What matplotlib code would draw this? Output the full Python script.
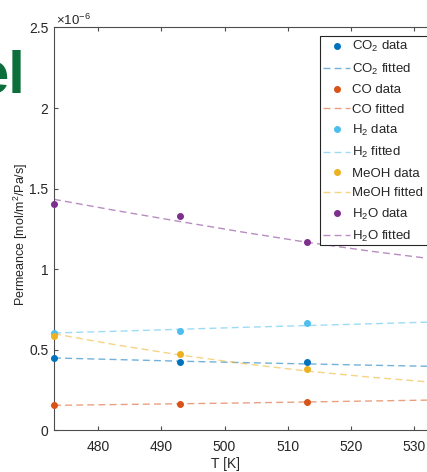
import matplotlib
matplotlib.use("Agg")
import matplotlib.pyplot as plt
from matplotlib.patches import Rectangle
from matplotlib.lines import Line2D

plt.rcParams["font.family"] = ["Liberation Sans", "DejaVu Sans"]
plt.rcParams["mathtext.fontset"] = "custom"
plt.rcParams["mathtext.rm"] = "Liberation Sans"
plt.rcParams["mathtext.it"] = "Liberation Sans:italic"
plt.rcParams["mathtext.bf"] = "Liberation Sans:bold"

# measured temperatures [K] and permeances [1e-6 mol/m2/Pa/s]
T_data = [473, 493, 513]
co2_data = [0.452, 0.423, 0.423]
co_data = [0.158, 0.162, 0.179]
h2_data = [0.607, 0.617, 0.665]
meoh_data = [0.586, 0.475, 0.380]
h2o_data = [1.403, 1.333, 1.171]

# fitted curves
T_fit = [473, 483, 493, 503, 513, 523, 533]
co2_fit = [0.450, 0.440, 0.430, 0.421, 0.413, 0.405, 0.398]
co_fit = [0.156, 0.161, 0.166, 0.171, 0.177, 0.183, 0.189]
h2_fit = [0.605, 0.616, 0.628, 0.640, 0.651, 0.662, 0.673]
meoh_fit = [0.600, 0.530, 0.468, 0.415, 0.369, 0.331, 0.299]
h2o_fit = [1.434, 1.363, 1.296, 1.230, 1.168, 1.113, 1.064]

species = ["CO$_2$", "CO", "H$_2$", "MeOH", "H$_2$O"]
colors = ["#0072BD", "#D95319", "#4DBEEE", "#EDB120", "#7E2F8E"]
data_sets = [co2_data, co_data, h2_data, meoh_data, h2o_data]
fit_sets = [co2_fit, co_fit, h2_fit, meoh_fit, h2o_fit]

W, H = 427, 472
fig = plt.figure(figsize=((W + 0.01) / 100, (H + 0.01) / 100), dpi=100)
ax = fig.add_axes([54 / W, (H - 430.5) / H, 379 / W, 403 / H])

for name, c, d, f in zip(species, colors, data_sets, fit_sets):
    ax.plot(T_data, d, "o", color=c, markersize=4, label=name + " data",
            clip_on=False, zorder=3)
    ax.plot(T_fit, f, "--", color=c, alpha=0.55, linewidth=1.0,
            dashes=(5, 3), label=name + " fitted")

ax.set_xlim(473, 533)
ax.set_ylim(0, 2.5)
ax.set_xticks([480, 490, 500, 510, 520, 530])
ax.set_yticks([0, 0.5, 1, 1.5, 2, 2.5])
ax.set_yticklabels(["0", "0.5", "1", "1.5", "2", "2.5"])

txt = "#262626"
for s in ax.spines.values():
    s.set_color("#4d4d4d")
    s.set_linewidth(0.8)
ax.tick_params(direction="in", length=3, width=0.8, colors="#4d4d4d",
               labelcolor=txt, labelsize=10, top=True, right=True)
ax.tick_params(axis="x", pad=7)
ax.tick_params(axis="y", pad=4)

ax.set_xlabel("T [K]", fontsize=10, color=txt, va="center")
ax.xaxis.set_label_coords((225 - 54) / 379, (430.5 - 464) / 403)
ax.set_ylabel("Permeance [mol/m$^2$/Pa/s]", fontsize=9, color=txt,
              va="center")
ax.yaxis.set_label_coords((21 - 54) / 379, (430.5 - 234) / 403)

fig.text(56 / W, 1 - 25 / H, r"$\times10^{-6}$", fontsize=9.5, color=txt,
         va="baseline", ha="left")

# legend box runs past the right edge of the picture: white fill plus
# an open three-sided frame
leg = ax.legend(loc="upper left", bbox_to_anchor=(320 / W, 1 - 36 / H),
                bbox_transform=fig.transFigure, fontsize=9.5,
                frameon=False, handlelength=2.0, handletextpad=0.15,
                borderpad=0.25, labelspacing=0.55, borderaxespad=0)
for t in leg.get_texts():
    t.set_color(txt)
leg.set_zorder(6)
x0, x1, y0, y1 = 320 / W, 445 / W, 1 - 245 / H, 1 - 36 / H
ax.add_patch(Rectangle((x0, y0), x1 - x0, y1 - y0, transform=fig.transFigure,
                       facecolor="white", edgecolor="none", clip_on=False,
                       zorder=4))
ax.add_line(Line2D([x1, x0, x0, x1], [y1, y1, y0, y0], transform=fig.transFigure,
                   color="#262626", linewidth=0.8, clip_on=False, zorder=5))

# slide title fragment cut off at the left edge
fig.text(25 / W, 1 - 92 / H, "el", fontsize=43, fontweight="bold",
         color="#0b6e3b", ha="right", va="baseline")

fig.savefig("out.png", dpi=100)
